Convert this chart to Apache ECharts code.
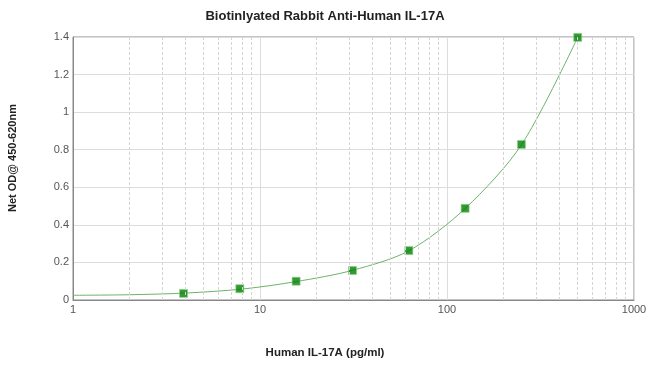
<!DOCTYPE html>
<html lang="en">
<head>
    <meta charset="UTF-8">
    <title>Biotinlyated Rabbit Anti-Human IL-17A</title>
    <script src="https://cdn.jsdelivr.net/npm/echarts@6/dist/echarts.min.js"></script>
    <style>
        html, body { margin: 0; padding: 0; background: #fff; }
        #chart { width: 650px; height: 378px; }
    </style>
</head>
<body>
<div id="chart"></div>
<script type="application/javascript">
    // standard points (pg/ml, OD)
    var conc = [3.9, 7.8, 15.6, 31.25, 62.5, 125, 250, 500];
    var od = [0.035, 0.06, 0.1, 0.157, 0.263, 0.488, 0.828, 1.398];

    // fitted curve
    var curveX = [1, 2, 4, 8, 15.6, 31.25, 62.5, 125, 250, 500];
    var curveY = [0.025, 0.028, 0.037, 0.058, 0.098, 0.158, 0.262, 0.487, 0.826, 1.398];

    // minor log grid lines
    var minorX = [2, 3, 4, 5, 6, 7, 8, 9, 20, 30, 40, 50, 60, 70, 80, 90, 200, 300, 400, 500, 600, 700, 800, 900];

    var font = 'Liberation Sans, Arial, sans-serif';

    var chart = echarts.init(document.getElementById('chart'));
    var option = {
        animation: false,
        title: [{
            text: 'Biotinlyated Rabbit Anti-Human IL-17A',
            left: 'center',
            top: 5,
            textStyle: {fontFamily: font, fontSize: 13, fontWeight: 'bold', color: '#222'}
        }, {
            text: 'Human IL-17A (pg/ml)',
            left: 'center',
            top: 342,
            textStyle: {fontFamily: font, fontSize: 11.5, fontWeight: 'bold', color: '#222'}
        }],
        graphic: [{
            type: 'text',
            x: 13,
            y: 158,
            rotation: Math.PI / 2,
            style: {
                text: 'Net OD@ 450-620nm',
                fontFamily: font, fontSize: 11, fontWeight: 'bold', fill: '#222',
                align: 'center', verticalAlign: 'middle'
            }
        }],
        grid: {
            left: 73, right: 16, top: 37, bottom: 78,
            show: true, borderColor: '#888', borderWidth: 1
        },
        xAxis: {
            type: 'log',
            logBase: 10,
            min: 1,
            max: 1000,
            axisLine: {lineStyle: {color: '#888'}},
            axisTick: {show: false},
            axisLabel: {fontFamily: font, fontSize: 11, color: '#555', margin: 4, formatter: function (v) { return String(v); }},
            splitLine: {show: true, lineStyle: {color: '#ddd', width: 1}}
        },
        yAxis: {
            type: 'value',
            min: 0,
            max: 1.4,
            interval: 0.2,
            axisLine: {show: true, lineStyle: {color: '#888'}},
            axisTick: {show: false},
            axisLabel: {fontFamily: font, fontSize: 11, color: '#555', margin: 4},
            splitLine: {show: true, lineStyle: {color: '#ddd', width: 1}}
        },
        series: [{
            type: 'line',
            data: curveX.map(function (x, i) { return [x, curveY[i]]; }),
            smooth: 0.3,
            showSymbol: false,
            lineStyle: {color: '#6bb36b', width: 1},
            markLine: {
                silent: true,
                symbol: 'none',
                label: {show: false},
                lineStyle: {color: '#d4d4d4', type: [3, 2], width: 1},
                data: minorX.map(function (v) { return {xAxis: v}; })
            },
            z: 2
        }, {
            type: 'scatter',
            data: conc.map(function (x, i) { return [x, od[i]]; }),
            symbol: 'rect',
            symbolSize: 8,
            itemStyle: {color: '#008000', borderColor: '#8fcf8f', borderWidth: 0.8},
            z: 3
        }]
    };
    chart.setOption(option);
</script>
</body>
</html>
